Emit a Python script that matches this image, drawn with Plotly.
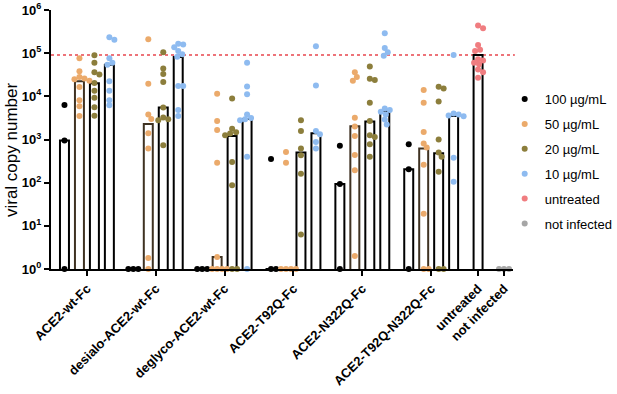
import numpy as np
import plotly.graph_objects as go

# ---------------- data ----------------
groups = ["ACE2-wt-Fc", "desialo-ACE2-wt-Fc", "deglyco-ACE2-wt-Fc",
          "ACE2-T92Q-Fc", "ACE2-N322Q-Fc", "ACE2-T92Q-N322Q-Fc"]
conc_labels = ["100 µg/mL", "50 µg/mL", "20 µg/mL", "10 µg/mL"]

pts100 = [[6300, 950, 1], [1, 1, 1], [1, 1, 1], [355, 1, 1],
          [720, 93, 1], [780, 205, 1]]
bar100 = [950, 1, 1, 1, 93, 205]

pts50 = [[76000, 38000, 28000, 26000, 25000, 23000, 16500, 8100, 5900, 3500],
         [210000, 19500, 3800, 3000, 1400, 620, 1.8, 1],
         [11500, 2700, 1660, 290, 1.9, 1, 1, 1, 1],
         [510, 290, 1, 1, 1, 1],
         [36000, 28000, 23000, 3200, 2000, 1200, 440, 195, 2],
         [14000, 7100, 1500, 810, 650, 260, 19, 1, 1]]
bar50 = [22400, 2300, 1.9, 1, 2040, 620]

pts20 = [[89000, 60000, 36000, 32000, 20400, 13500, 9300, 5600, 3550],
         [105000, 44000, 33000, 21400, 5500, 3240, 2950, 2800, 740],
         [8900, 1780, 1480, 1380, 1260, 300, 87, 1, 1],
         [2800, 1580, 620, 430, 160, 6.3],
         [49000, 25700, 24000, 7100, 2700, 1260, 1150, 780, 400],
         [16600, 15100, 7600, 1000, 500, 400, 180, 1, 1]]
bar20 = [20000, 5500, 1200, 500, 2600, 480]

pts10 = [[234000, 204000, 76000, 60000, 54000, 22400, 13500, 8100, 6200],
         [166000, 158000, 138000, 112000, 95000, 83000, 17400, 17400, 4800, 3500],
         [60000, 17000, 11200, 3800, 3160, 2950, 2800, 400, 1],
         [145000, 17800, 1580, 1320, 870, 620],
         [290000, 132000, 105000, 87000, 5200, 4800, 4400, 3800, 2900, 2240],
         [91000, 4000, 3800, 3600, 3470, 380, 105]]
bar10 = [54000, 81000, 3000, 1400, 4600, 3500]

untreated_pts = [437000, 380000, 155000, 120000, 112000, 72000, 68000,
                 60000, 55000, 42000, 36000, 27000]
untreated_bar = 91000
notinf_pts = [1, 1, 1, 1]
notinf_bar = 1

tick_labels = groups + ["untreated", "not infected"]
ytick_vals = [1, 10, 100, 1000, 10000, 100000, 1000000]
ytick_text = ["<b>10<sup>%d</sup></b>" % i for i in range(7)]
y_title = "viral copy number"

colors = ["#000000", "#EBAA6B", "#8C7E3C", "#8EBBF0"]
untreated_color = "#F07D80"
notinf_color = "#A6A6A6"

# ---------------- layout constants (x axis in pixel-like units) ----------------
GROUP0 = 36.0
GROUP_STEP = 69.0
BAR_OFFSETS = [-22.5, -7.5, 7.5, 22.5]
BAR_W = 9
UNTREATED_X = 428.0
NOTINF_X = 454.0
X_MAX = 463.0
PX_PER_DECADE = 43.17
MARKER = 6


def swarm(values, dmin=5.0, step=1.0):
    """Deterministic beeswarm offsets (in x px) so dots don't fully overlap."""
    ys = [np.log10(v) * PX_PER_DECADE for v in values]
    order = sorted(range(len(values)), key=lambda i: -ys[i])
    placed = []
    offs = [0.0] * len(values)
    cands = [0.0]
    for k in range(1, 40):
        cands += [k * step, -k * step]
    for i in order:
        for c in cands:
            ok = all((c - px) ** 2 + (ys[i] - py) ** 2 >= dmin ** 2 for px, py in placed)
            if ok:
                offs[i] = c
                placed.append((c, ys[i]))
                break
    return offs


group_x = [GROUP0 + GROUP_STEP * i for i in range(len(groups))]

fig = go.Figure()

all_pts = [pts100, pts50, pts20, pts10]
all_bars = [bar100, bar50, bar20, bar10]
bar_line_colors = ["#000000", "#3f3222", "#000000", "#000000"]

for k in range(4):
    xs = [gx + BAR_OFFSETS[k] for gx in group_x]
    fig.add_trace(go.Bar(x=xs, y=all_bars[k], width=BAR_W,
                         marker=dict(color="white", line=dict(color=bar_line_colors[k], width=2)),
                         showlegend=False, hoverinfo="skip"))
fig.add_trace(go.Bar(x=[UNTREATED_X, NOTINF_X], y=[untreated_bar, notinf_bar],
                     width=BAR_W, marker=dict(color="white", line=dict(color="black", width=2)),
                     showlegend=False, hoverinfo="skip"))

for k in range(4):
    px_, py_ = [], []
    for gi, gx in enumerate(group_x):
        vals = all_pts[k][gi]
        offs = swarm(vals)
        for v, o in zip(vals, offs):
            px_.append(gx + BAR_OFFSETS[k] + o)
            py_.append(v)
    fig.add_trace(go.Scatter(x=px_, y=py_, mode="markers", name=conc_labels[k],
                             legendgroup=conc_labels[k],
                             marker=dict(color=colors[k], size=MARKER),
                             cliponaxis=False))

offs = swarm(untreated_pts)
fig.add_trace(go.Scatter(x=[UNTREATED_X + o for o in offs], y=untreated_pts, mode="markers",
                         name="untreated", legendgroup="untreated",
                         marker=dict(color=untreated_color, size=MARKER), cliponaxis=False))
offs = swarm(notinf_pts)
fig.add_trace(go.Scatter(x=[NOTINF_X + o for o in offs], y=notinf_pts, mode="markers",
                         name="not infected", legendgroup="not infected",
                         marker=dict(color=notinf_color, size=MARKER), cliponaxis=False))

fig.add_shape(type="line", xref="paper", x0=0, x1=1.004, yref="y",
              y0=untreated_bar, y1=untreated_bar,
              line=dict(color="#E8464E", width=1.5, dash="dot"), layer="below")

fig.add_annotation(text=y_title, textangle=-90, xref="paper", yref="paper",
                   x=-0.084, y=0.46, xanchor="center", yanchor="middle",
                   showarrow=False, font=dict(size=17, color="black"))

fig.update_layout(
    width=617, height=394,
    margin=dict(l=51, r=104, t=10, b=125, autoexpand=False),
    plot_bgcolor="white", paper_bgcolor="white",
    font=dict(family="Arial, Liberation Sans, sans-serif", color="black", size=13),
    barmode="overlay",
    legend=dict(x=0.982, y=0.714, xanchor="left", yanchor="top",
                font=dict(size=13), tracegroupgap=5, itemsizing="trace",
                bgcolor="rgba(0,0,0,0)"),
    xaxis=dict(range=[0, X_MAX], showgrid=False, zeroline=False, automargin=False,
               showline=True, linecolor="black", linewidth=2,
               tickmode="array", tickvals=group_x + [UNTREATED_X, NOTINF_X],
               ticktext=["<b>%s</b>" % t for t in tick_labels],
               ticks="outside", ticklen=5, tickwidth=2, tickcolor="black",
               tickangle=-45, tickfont=dict(size=13)),
    yaxis=dict(type="log", range=[0, 6], showgrid=False, zeroline=False, automargin=False,
               showline=True, linecolor="black", linewidth=2,
               tickmode="array", tickvals=ytick_vals, ticktext=ytick_text,
               ticks="outside", ticklen=5, tickwidth=2, tickcolor="black",
               tickfont=dict(size=13)),
)

fig.write_html("out.html", config={"displayModeBar": False},
               post_script="document.body.style.margin='0';")
